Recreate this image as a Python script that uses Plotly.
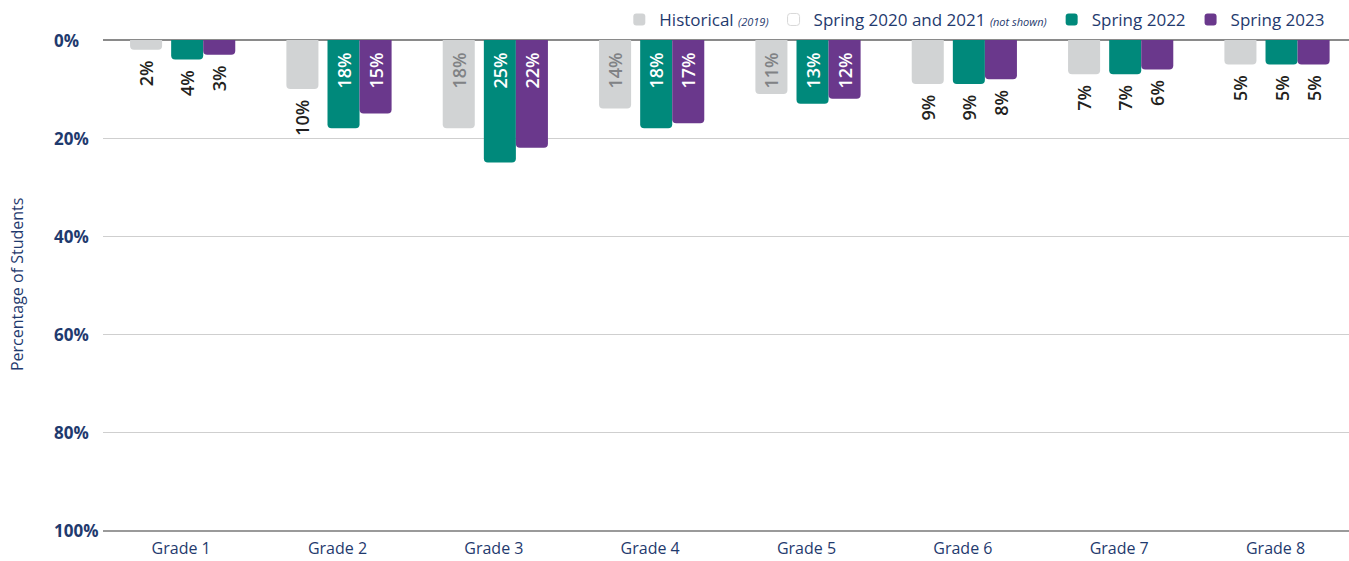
import plotly.graph_objects as go

grades = ["Grade 1", "Grade 2", "Grade 3", "Grade 4", "Grade 5", "Grade 6", "Grade 7", "Grade 8"]
historical = [2, 10, 18, 14, 11, 9, 7, 5]
spring2022 = [4, 18, 25, 18, 13, 9, 7, 5]
spring2023 = [3, 15, 22, 17, 12, 8, 6, 5]
y_ticks = [0, 20, 40, 60, 80, 100]
y_tick_labels = ["0%", "20%", "40%", "60%", "80%", "100%"]

pos_hist = ["outside", "outside", "inside", "inside", "inside", "outside", "outside", "outside"]
pos_22 = ["outside", "inside", "inside", "inside", "inside", "outside", "outside", "outside"]
pos_23 = ["outside", "inside", "inside", "inside", "inside", "outside", "outside", "outside"]

NAVY = "#1f3a6e"
GRAY = "#d1d3d4"
TEAL = "#00897b"
PURPLE = "#6a388c"
FONT = "Open Sans"
W = 0.205
NB = "\u00a0"
TH = "\u2009"

fig = go.Figure()

def add(name, vals, color, offset, pos, inside_color):
    labels = [f"{v}%" + (NB * 2 if p == "inside" else NB + TH) for v, p in zip(vals, pos)]
    fig.add_trace(go.Bar(
        x=grades, y=vals, name=name, marker=dict(color=color, line=dict(width=0)),
        width=W, offset=offset,
        text=labels, textposition=pos, textangle=-90,
        insidetextanchor="start", constraintext="none", cliponaxis=False,
        insidetextfont=dict(color=inside_color, size=18, family=FONT, weight=600),
        outsidetextfont=dict(color="#231f20", size=18, family=FONT, weight=600),
        hoverinfo="skip",
    ))

add("Historical <i><span style='font-size:11px'>(2019)</span></i>", historical, GRAY, -0.327, pos_hist, "#808285")
fig.add_trace(go.Bar(
    x=[grades[0]], y=[None], name="Spring 2020 and 2021 <i><span style='font-size:11px'>(not shown)</span></i>",
    marker=dict(color="white", line=dict(color="#d8d8d8", width=1)), width=W,
))
add("Spring 2022", spring2022, TEAL, -0.064, pos_22, "white")
add("Spring 2023", spring2023, PURPLE, 0.141, pos_23, "white")

annotations = [dict(text="Percentage of Students", textangle=-90, xref="paper", yref="paper",
                    x=-0.069, y=0.5, showarrow=False, xanchor="center", yanchor="middle",
                    font=dict(size=16, color=NAVY, family=FONT))]
for v, t in zip(y_ticks, y_tick_labels):
    annotations.append(dict(text=t, xref="paper", yref="y", x=-0.041, y=v, showarrow=False,
                            xanchor="left", yanchor="middle",
                            font=dict(size=17, color=NAVY, family=FONT, weight=700)))

fig.update_layout(
    width=1349, height=561,
    margin=dict(l=103, r=0, t=40, b=31, autoexpand=False),
    barmode="overlay", barcornerradius=4,
    plot_bgcolor="white", paper_bgcolor="white",
    font=dict(family=FONT, color=NAVY, size=15),
    showlegend=True,
    legend=dict(orientation="h", x=0.985, xanchor="right", y=1.041, yanchor="middle",
                font=dict(size=17, color=NAVY, family=FONT), traceorder="normal",
                itemwidth=30, bgcolor="rgba(0,0,0,0)"),
    xaxis=dict(range=[-0.5, 7.47], tickfont=dict(size=16, color=NAVY), showgrid=False,
               showline=True, linecolor="#9a9a9a", linewidth=1.5, ticks="",
               ticklabelstandoff=3, automargin=False),
    yaxis=dict(range=[100, 0], tickvals=y_ticks, showticklabels=False, showgrid=True,
               gridcolor="#cfcfcf", gridwidth=1, zeroline=True, zerolinecolor="#8a8a8a",
               zerolinewidth=2, ticks="", automargin=False),
    annotations=annotations,
)

fig.write_html("out.html", config={"displayModeBar": False},
               post_script="document.body.style.margin='0px';")
